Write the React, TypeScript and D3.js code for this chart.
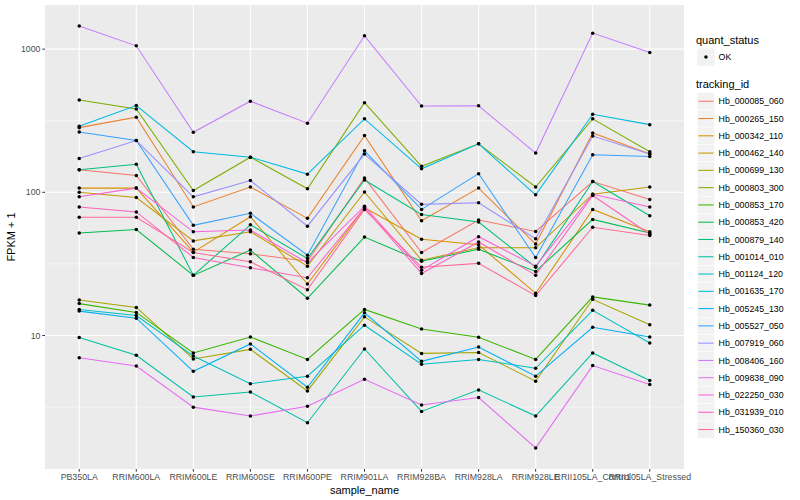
import * as d3 from 'd3'

// samples on the x axis
const samples = [
  'PB350LA',
  'RRIM600LA',
  'RRIM600LE',
  'RRIM600SE',
  'RRIM600PE',
  'RRIM901LA',
  'RRIM928BA',
  'RRIM928LA',
  'RRIM928LE',
  'RRII105LA_Control',
  'RRII105LA_Stressed',
]

const trackingIds = [
  'Hb_000085_060',
  'Hb_000265_150',
  'Hb_000342_110',
  'Hb_000462_140',
  'Hb_000699_130',
  'Hb_000803_300',
  'Hb_000853_170',
  'Hb_000853_420',
  'Hb_000879_140',
  'Hb_001014_010',
  'Hb_001124_120',
  'Hb_001635_170',
  'Hb_005245_130',
  'Hb_005527_050',
  'Hb_007919_060',
  'Hb_008406_160',
  'Hb_009838_090',
  'Hb_022250_030',
  'Hb_031939_010',
  'Hb_150360_030',
]

// FPKM + 1, one value per sample
const hb000085_060 = [144, 131, 40, 37.2, 33, 126, 38, 64, 53.3, 119, 89]
const hb000265_150 = [283, 335, 79, 109, 65.8, 249, 63.3, 107, 43.5, 260, 185]
const hb000342_110 = [107, 107, 38.2, 67.5, 22.9, 78, 47, 43, 19.7, 76, 53]
const hb000462_140 = [100, 92, 45.8, 53, 30.5, 100.5, 33.6, 41, 41, 97, 109]
const hb000699_130 = [17.7, 15.7, 6.86, 8.0, 4.1, 13.5, 7.5, 7.6, 4.8, 17.9, 11.9]
const hb000803_300 = [441, 382, 103, 176, 106, 423, 152, 218, 109, 326, 192]
const hb000853_170 = [16.7, 14.5, 7.55, 9.77, 6.8, 15.2, 11.1, 9.73, 6.8, 18.6, 16.3]
const hb000853_420 = [52, 55, 26.3, 39.5, 18.2, 48.7, 33, 40, 28, 64.7, 52]
const hb000879_140 = [144, 157, 26.3, 59.3, 34.5, 122, 70, 62, 30, 119, 68.6]
const hb001014_010 = [9.7, 7.28, 3.72, 4.03, 2.46, 8.05, 2.95, 4.17, 2.74, 7.55, 4.85]
const hb001124_120 = [15.2, 13.8, 7.2, 4.6, 5.2, 11.8, 6.3, 6.8, 5.9, 15.0, 8.87]
const hb001635_170 = [289, 404, 192, 176, 134, 326, 146, 218, 96, 351, 297]
const hb005245_130 = [14.8, 13.2, 5.62, 8.73, 4.35, 14.4, 6.6, 8.3, 5.2, 11.4, 9.77]
const hb005527_050 = [264, 230, 58.8, 71.3, 36.4, 195, 76, 135, 35, 183, 178]
const hb007919_060 = [172, 230, 93, 121, 58, 185, 82.4, 84.6, 47.4, 247, 185]
const hb008406_160 = [1449, 1055, 263, 433, 304, 1239, 401, 402, 188, 1294, 946]
const hb009838_090 = [7.0, 6.12, 3.16, 2.74, 3.2, 4.94, 3.27, 3.69, 1.64, 6.16, 4.54]
const hb022250_030 = [93, 107, 53, 54.5, 32.2, 80, 28.6, 49, 30.5, 97, 79]
const hb031939_010 = [79, 73, 35.1, 29.7, 25.3, 78, 27.1, 45, 26.4, 95, 51]
const hb150360_030 = [67, 67, 38, 32.7, 20.9, 76, 30, 31.9, 19.0, 57, 50]

const seriesValues = [
  hb000085_060, hb000265_150, hb000342_110, hb000462_140, hb000699_130,
  hb000803_300, hb000853_170, hb000853_420, hb000879_140, hb001014_010,
  hb001124_120, hb001635_170, hb005245_130, hb005527_050, hb007919_060,
  hb008406_160, hb009838_090, hb022250_030, hb031939_010, hb150360_030,
]

const yTicks = [10, 100, 1000]
const quantStatus = ['OK']

const panel = { left: 45, right: 684, top: 5, bottom: 469 }
const font = "'Liberation Sans', Arial, Helvetica, sans-serif"

// R's hcl() (polar LUV) -> hex, same as ggplot's hue palette
function hcl(h: number, c: number, l: number) {
  const hr = (h * Math.PI) / 180
  const U = c * Math.cos(hr)
  const V = c * Math.sin(hr)
  const Xn = 95.047, Yn = 100, Zn = 108.883
  const Y = l > 7.999592 ? Yn * Math.pow((l + 16) / 116, 3) : (Yn * l) / 903.3
  const den = Xn + 15 * Yn + 3 * Zn
  const u = U / (13 * l) + (4 * Xn) / den
  const v = V / (13 * l) + (9 * Yn) / den
  const X = (9 * Y * u) / (4 * v)
  const Z = (Y * (12 - 3 * u - 20 * v)) / (4 * v)
  const x = X / 100, y = Y / 100, z = Z / 100
  const lin = [
    3.240479 * x - 1.53715 * y - 0.498535 * z,
    -0.969256 * x + 1.875992 * y + 0.041556 * z,
    0.055648 * x - 0.204043 * y + 1.057311 * z,
  ]
  const g = lin.map((t) => {
    const s = t <= 0.0031308 ? 12.92 * t : 1.055 * Math.pow(t, 1 / 2.4) - 0.055
    return Math.round(Math.max(0, Math.min(1, s)) * 255)
  })
  return d3.rgb(g[0], g[1], g[2]).formatHex()
}

const colors = trackingIds.map((_, i) => hcl(15 + (360 / trackingIds.length) * i, 100, 65))

export default function App() {
  const x = d3.scalePoint<string>().domain(samples).range([panel.left, panel.right]).padding(0.6)

  const logs = seriesValues.flat().map(Math.log10)
  const lo = d3.min(logs) as number
  const hi = d3.max(logs) as number
  const pad = (hi - lo) * 0.05
  const y = d3
    .scaleLog()
    .domain([10 ** (lo - pad), 10 ** (hi + pad)])
    .range([panel.bottom, panel.top])

  const [d0, d1] = y.domain()
  const minor = [-0.5, 0.5, 1.5, 2.5, 3.5]
    .map((p) => 10 ** p)
    .filter((v) => v > d0 && v < d1)

  const line = d3
    .line<number>()
    .x((_, i) => x(samples[i]) as number)
    .y((v) => y(v))

  const legendX = 696
  const keySize = 17.28
  const keyTop = 92.6

  return (
    <svg
      width={800}
      height={500}
      style={{ position: 'absolute', left: 0, top: 0, background: '#fff' }}
      fontFamily={font}
    >
      <rect x={panel.left} y={panel.top} width={panel.right - panel.left} height={panel.bottom - panel.top} fill="#EBEBEB" />
      {minor.map((v) => (
        <line key={'m' + v} x1={panel.left} x2={panel.right} y1={y(v)} y2={y(v)} stroke="#fff" strokeWidth={0.55} />
      ))}
      {yTicks.map((v) => (
        <line key={'g' + v} x1={panel.left} x2={panel.right} y1={y(v)} y2={y(v)} stroke="#fff" strokeWidth={1.1} />
      ))}
      {samples.map((s) => (
        <line key={'gx' + s} x1={x(s)} x2={x(s)} y1={panel.top} y2={panel.bottom} stroke="#fff" strokeWidth={1.1} />
      ))}

      {seriesValues.map((vals, i) => (
        <path key={trackingIds[i]} d={line(vals) as string} fill="none" stroke={colors[i]} strokeWidth={1.05} />
      ))}
      {seriesValues.map((vals, i) =>
        vals.map((v, j) => <circle key={i + '-' + j} cx={x(samples[j])} cy={y(v)} r={1.75} fill="#000" />)
      )}

      {/* y axis */}
      {yTicks.map((v) => (
        <g key={'yt' + v}>
          <line x1={panel.left - 2.7} x2={panel.left} y1={y(v)} y2={y(v)} stroke="#333" strokeWidth={1} />
          <text x={panel.left - 4.5} y={y(v) + 3.1} textAnchor="end" fontSize={8.8} fill="#4D4D4D">
            {v}
          </text>
        </g>
      ))}
      <text
        transform={`translate(15,${(panel.top + panel.bottom) / 2}) rotate(-90)`}
        textAnchor="middle"
        fontSize={11}
        fill="#000"
      >
        FPKM + 1
      </text>

      {/* x axis */}
      {samples.map((s) => (
        <g key={'xt' + s}>
          <line x1={x(s)} x2={x(s)} y1={panel.bottom} y2={panel.bottom + 2.7} stroke="#333" strokeWidth={1} />
          <text x={x(s)} y={panel.bottom + 11} textAnchor="middle" fontSize={8.8} fill="#4D4D4D">
            {s}
          </text>
        </g>
      ))}
      <text x={(panel.left + panel.right) / 2} y={panel.bottom + 25} textAnchor="middle" fontSize={11} fill="#000">
        sample_name
      </text>

      {/* legends */}
      <text x={legendX} y={44} fontSize={11}>
        quant_status
      </text>
      {quantStatus.map((q, i) => (
        <g key={q}>
          <rect x={legendX + 1.3} y={48.4 + i * keySize} width={keySize} height={keySize} fill="#F2F2F2" />
          <circle cx={legendX + 1.3 + keySize / 2} cy={48.4 + keySize / 2} r={1.75} fill="#000" />
          <text x={legendX + 1.3 + keySize + 4} y={48.4 + keySize / 2 + 3.1} fontSize={8.8}>
            {q}
          </text>
        </g>
      ))}
      <text x={legendX} y={88} fontSize={11}>
        tracking_id
      </text>
      {trackingIds.map((id, i) => {
        const top = keyTop + i * keySize
        return (
          <g key={id}>
            <rect x={legendX + 1.3} y={top} width={keySize} height={keySize} fill="#F2F2F2" stroke="#fff" strokeWidth={0.5} />
            <line
              x1={legendX + 2.3}
              x2={legendX + keySize + 0.3}
              y1={top + keySize / 2}
              y2={top + keySize / 2}
              stroke={colors[i]}
              strokeWidth={1.05}
            />
            <text x={legendX + 1.3 + keySize + 4} y={top + keySize / 2 + 3.1} fontSize={8.8}>
              {id}
            </text>
          </g>
        )
      })}
    </svg>
  )
}
